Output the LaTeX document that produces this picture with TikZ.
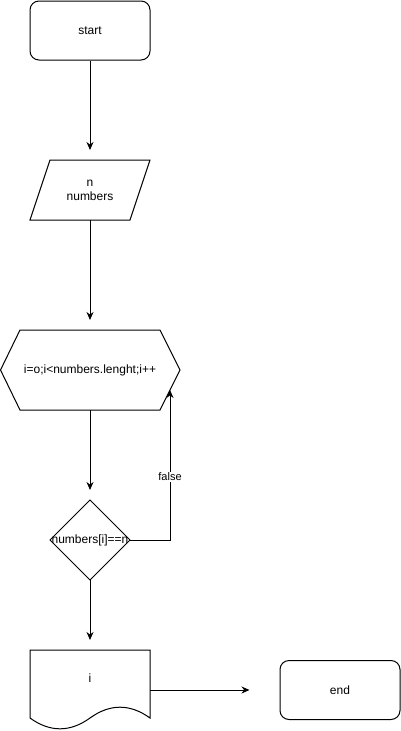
\documentclass[tikz,border=0pt]{standalone}
\usepackage{fontspec}
\setmainfont{Liberation Sans}
\usetikzlibrary{arrows.meta}
\begin{document}
\begin{tikzpicture}[x=1pt,y=-1pt,
  shapeline/.style={draw=black, line width=1pt, line join=miter},
  term/.style={draw=black, line width=1pt, rounded corners=9pt, minimum width=120pt, minimum height=59pt, inner sep=0pt, font=\fontsize{12}{14.4}\selectfont},
  lbl/.style={inner sep=0pt, align=center, font=\fontsize{12}{14.4}\selectfont},
  edgelbl/.style={inner sep=1pt, fill=white, font=\fontsize{11}{13}\selectfont},
  arr/.style={-{Stealth[length=8pt,width=7pt]}, line width=1pt}]
\useasboundingbox (0,0) rectangle (401,731);
% start
\node[term] (start) at (90,30.5) {start};
% input parallelogram
\draw[shapeline] (50,160) -- (150,160) -- (130,220) -- (30,220) -- cycle;
\node[lbl] (inp) at (90,190.5) {n\\numbers};
\coordinate (inpT) at (90,160);
\coordinate (inpB) at (90,220);
% loop hexagon
\draw[shapeline] (0.5,370) -- (20,330) -- (160,330) -- (180,370) -- (160,410) -- (20,410) -- cycle;
\node[lbl] (loop) at (90,370) {i=o;i<numbers.lenght;i++};
\coordinate (loopT) at (90,330);
\coordinate (loopB) at (90,410);
\coordinate (loopR) at (170,390);
% decision diamond
\draw[shapeline] (90,500) -- (130,540) -- (90,580) -- (50,540) -- cycle;
\node[lbl] (dec) at (90,540) {numbers[i]==n};
\coordinate (decT) at (90,500);
\coordinate (decB) at (90,580);
\coordinate (decR) at (130,540);
% output document
\draw[shapeline] (30,650) -- (150,650) -- (150,718)
  .. controls (130,703.6) and (110,703.6) .. (90,718)
  .. controls (70,732.4) and (50,732.4) .. (30,718) -- cycle;
\node[lbl] (out) at (90,678) {i};
\coordinate (outT) at (90,650);
\coordinate (outR) at (150,690);
% end
\node[term] (end) at (340,690) {end};
% connectors
\draw[arr] (start.south) -- ([yshift=10pt]inpT);
\draw[arr] (inpB) -- ([yshift=10pt]loopT);
\draw[arr] (loopB) -- ([yshift=10pt]decT);
\draw[arr] (decR) -- (170,540) -- (loopR);
\node[edgelbl] (f) at (170,477) {false};
\draw[arr] (decB) -- ([yshift=10pt]outT);
\draw[arr] (outR) -- ([xshift=-30pt]end.west |- outR);
\end{tikzpicture}
\end{document}
